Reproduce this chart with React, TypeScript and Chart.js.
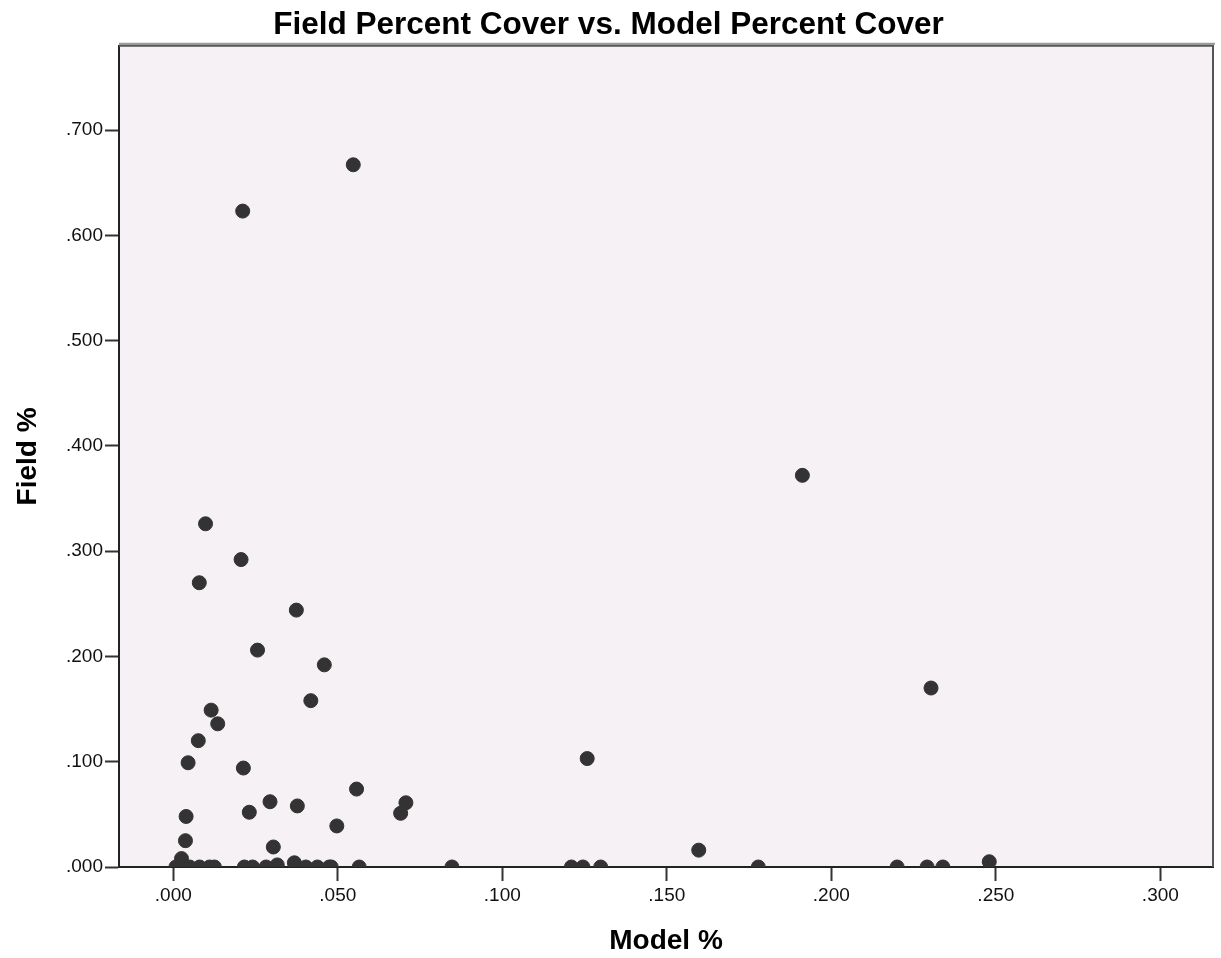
import React, { useEffect, useRef } from 'react';
import { Chart, registerables } from 'chart.js';

Chart.register(...registerables);

// Model % (x) and Field % (y) for each observation
const modelPct = [
  0.0547, 0.0211, 0.1912, 0.0098, 0.0206, 0.0079, 0.0374, 0.0256, 0.0459, 0.0418,
  0.2303, 0.0115, 0.0135, 0.0076, 0.0045, 0.0213, 0.1258, 0.0557, 0.0294, 0.0377,
  0.0707, 0.0691, 0.0231, 0.0039, 0.0497, 0.0037, 0.0304, 0.1597, 0.2480, 0.0025,
  0.0316, 0.0368,
  0.0008, 0.0050, 0.0080, 0.0110, 0.0125,
  0.0216, 0.0241, 0.0282, 0.0403, 0.0438, 0.0474, 0.0480,
  0.0565, 0.0847, 0.1210, 0.1245, 0.1299, 0.1778, 0.2200, 0.2291, 0.2339,
];
const fieldPct = [
  0.667, 0.623, 0.372, 0.326, 0.292, 0.270, 0.244, 0.206, 0.192, 0.158,
  0.170, 0.149, 0.136, 0.120, 0.099, 0.094, 0.103, 0.074, 0.062, 0.058,
  0.061, 0.051, 0.052, 0.048, 0.039, 0.025, 0.019, 0.016, 0.005, 0.008,
  0.002, 0.004,
  0, 0, 0, 0, 0,
  0, 0, 0, 0, 0, 0, 0,
  0, 0, 0, 0, 0, 0, 0, 0, 0,
];

const xTicks = [0, 0.05, 0.1, 0.15, 0.2, 0.25, 0.3];
const yTicks = [0, 0.1, 0.2, 0.3, 0.4, 0.5, 0.6, 0.7];
const xRange = [-0.0165, 0.316];
const yRange = [0, 0.78];

const titleText = 'Field Percent Cover vs. Model Percent Cover';
const xTitle = 'Model %';
const yTitle = 'Field %';

const fmt = (v: number) => v.toFixed(3).replace(/^0/, '');

const FONT = "'Liberation Sans', Arial, Helvetica, sans-serif";
const BG = '#F5F1F5';

const framePlugin = {
  id: 'frame',
  beforeDraw(chart: any) {
    const { ctx, chartArea } = chart;
    const { left, top, right, bottom } = chartArea;
    ctx.save();
    ctx.fillStyle = BG;
    ctx.fillRect(left, top, right - left, bottom - top);
    ctx.restore();
  },
  afterDraw(chart: any) {
    const { ctx, chartArea } = chart;
    const { left, top, right, bottom } = chartArea;
    ctx.save();
    ctx.strokeStyle = '#9a9a9a';
    ctx.lineWidth = 2;
    ctx.beginPath();
    ctx.moveTo(left, top - 2);
    ctx.lineTo(right + 2, top - 2);
    ctx.stroke();
    ctx.strokeStyle = '#555555';
    ctx.lineWidth = 2;
    ctx.beginPath();
    ctx.moveTo(left, top);
    ctx.lineTo(right, top);
    ctx.lineTo(right, bottom);
    ctx.stroke();
    ctx.restore();
  },
};

export default function App() {
  const ref = useRef<HTMLCanvasElement | null>(null);

  useEffect(() => {
    if (!ref.current) return;
    const points = modelPct.map((x, i) => ({ x, y: fieldPct[i] }));
    const chart = new Chart(ref.current, {
      type: 'scatter',
      data: {
        datasets: [
          {
            data: points,
            backgroundColor: '#333333',
            borderColor: '#333333',
            borderWidth: 1,
            pointRadius: 7,
            pointHoverRadius: 7,
            clip: 0,
          } as any,
        ],
      },
      options: {
        responsive: false,
        animation: false,
        devicePixelRatio: 1,
        layout: { padding: { left: 0, right: 4, top: 0, bottom: 0 } },
        plugins: {
          legend: { display: false },
          tooltip: { enabled: false },
          title: {
            display: true,
            text: titleText,
            color: '#000',
            font: { family: FONT, size: 31.5, weight: 'bold', lineHeight: 1.2 },
            padding: { top: 6, bottom: 2 },
          },
        },
        scales: {
          x: {
            type: 'linear',
            min: xRange[0],
            max: xRange[1],
            afterBuildTicks: (scale: any) => {
              scale.ticks = xTicks.map((v) => ({ value: v }));
            },
            afterFit: (scale: any) => {
              scale.height = 91;
            },
            ticks: {
              callback: (v: any) => fmt(Number(v)),
              color: '#111',
              font: { family: FONT, size: 19 },
              padding: 3,
              maxRotation: 0,
              autoSkip: false,
            },
            grid: {
              display: true,
              drawOnChartArea: false,
              drawTicks: true,
              tickLength: 14,
              tickWidth: 2,
              tickColor: '#333',
            },
            border: { display: true, color: '#222', width: 2 },
            title: {
              display: true,
              text: xTitle,
              color: '#000',
              font: { family: FONT, size: 28, weight: 'bold', lineHeight: 1.2 },
              padding: { top: 0, bottom: 0 },
            },
          },
          y: {
            type: 'linear',
            min: yRange[0],
            max: yRange[1],
            afterBuildTicks: (scale: any) => {
              scale.ticks = yTicks.map((v) => ({ value: v }));
            },
            afterFit: (scale: any) => {
              scale.width = 119;
            },
            ticks: {
              callback: (v: any) => fmt(Number(v)),
              color: '#111',
              font: { family: FONT, size: 19 },
              padding: 2,
              autoSkip: false,
            },
            grid: {
              display: true,
              drawOnChartArea: false,
              drawTicks: true,
              tickLength: 14,
              tickWidth: 2,
              tickColor: '#333',
            },
            border: { display: true, color: '#222', width: 2 },
            title: {
              display: true,
              text: yTitle,
              color: '#000',
              font: { family: FONT, size: 28, weight: 'bold', lineHeight: 1.2 },
              padding: { top: 11, bottom: 0 },
            },
          },
        },
      },
      plugins: [framePlugin],
    } as any);
    return () => chart.destroy();
  }, []);

  return (
    <div style={{ position: 'absolute', left: 0, top: 0, width: 1221, height: 958, background: '#fff' }}>
      <canvas ref={ref} width={1221} height={958} style={{ display: 'block', width: 1221, height: 958 }} />
    </div>
  );
}
